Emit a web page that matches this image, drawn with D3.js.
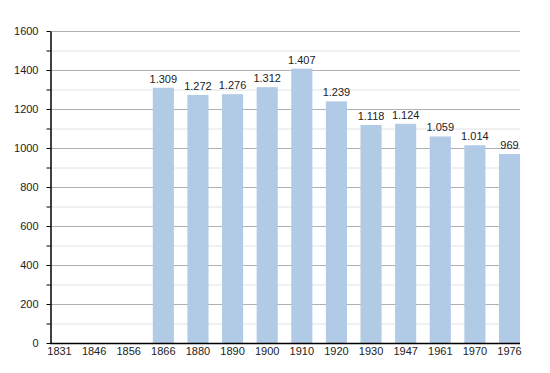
<!DOCTYPE html>
<html>
<head>
<meta charset="utf-8">
<script src="https://cdn.jsdelivr.net/npm/d3@7"></script>
<style>
  body { margin: 0; background: #fff; }
  text { font-family: "Liberation Sans", Arial, sans-serif; font-size: 11px; fill: #222; }
</style>
</head>
<body>
<div id="chart"></div>
<script>
var years = ["1831", "1846", "1856", "1866", "1880", "1890", "1900", "1910", "1920", "1930", "1947", "1961", "1970", "1976"];
var population = [null, null, null, 1309, 1272, 1276, 1312, 1407, 1239, 1118, 1124, 1059, 1014, 969];
var yTicks = [0, 200, 400, 600, 800, 1000, 1200, 1400, 1600];
var yMinor = [100, 300, 500, 700, 900, 1100, 1300, 1500];

var width = 550, height = 373,
    margin = {left: 50, right: 520, top: 31, bottom: 343};

var svg = d3.select("#chart").append("svg")
    .attr("width", width)
    .attr("height", height);

var step = (509.5 - 59.5) / (years.length - 1);
var x = d3.scaleBand()
    .domain(years)
    .range([59.5 - step / 2, 509.5 + step / 2])
    .paddingInner(0.39)
    .paddingOuter(0.195);

var y = d3.scaleLinear()
    .domain([0, 1600])
    .range([margin.bottom, margin.top]);

// minor grid
svg.append("g").selectAll("line")
    .data(yMinor)
  .enter().append("line")
    .attr("x1", margin.left).attr("x2", margin.right)
    .attr("y1", function(d){ return y(d) + 0.5; })
    .attr("y2", function(d){ return y(d) + 0.5; })
    .attr("stroke", "#e2e2e2");

// major grid
svg.append("g").selectAll("line")
    .data(yTicks.slice(1))
  .enter().append("line")
    .attr("x1", margin.left).attr("x2", margin.right)
    .attr("y1", function(d){ return y(d) + 0.5; })
    .attr("y2", function(d){ return y(d) + 0.5; })
    .attr("stroke", "#b0b0b0");

// bars
var valid = years.map(function(d, i){ return {year: d, value: population[i]}; })
    .filter(function(d){ return d.value != null; });

svg.append("g").selectAll("rect")
    .data(valid)
  .enter().append("rect")
    .attr("x", function(d){ return x(d.year); })
    .attr("width", x.bandwidth())
    .attr("y", function(d){ return y(d.value); })
    .attr("height", function(d){ return margin.bottom - y(d.value); })
    .attr("fill", "#b1cbe6");

// value labels, dot as thousands separator
var fmt = d3.formatLocale({decimal: ",", thousands: ".", grouping: [3], currency: ["", ""]}).format(",d");
svg.append("g").selectAll("text")
    .data(valid)
  .enter().append("text")
    .attr("x", function(d){ return x(d.year) + x.bandwidth() / 2; })
    .attr("y", function(d){ return y(d.value) - 5; })
    .attr("text-anchor", "middle")
    .text(function(d){ return fmt(d.value); });

// y axis
var yAxis = d3.axisLeft(y)
    .tickValues(d3.merge([yTicks, yMinor]).sort(d3.ascending))
    .tickSize(4)
    .tickSizeOuter(0)
    .tickFormat(function(d){ return yTicks.indexOf(d) >= 0 ? d : ""; });

var gy = svg.append("g")
    .attr("transform", "translate(" + (margin.left + 0.5) + ",0)")
    .call(yAxis);
gy.select(".domain").attr("stroke", "#000").attr("stroke-width", 1.5);
gy.selectAll(".tick line").attr("stroke", "#000");
gy.selectAll(".tick text").attr("x", -12).style("font-size", "11px").attr("fill", "#222");

// x axis
var gx = svg.append("g")
    .attr("transform", "translate(0," + margin.bottom + ")")
    .call(d3.axisBottom(x).tickSize(0).tickSizeOuter(0));
gx.select(".domain").attr("d", "M" + margin.left + ",0.5H" + margin.right).attr("stroke", "#000").attr("stroke-width", 1.5);
gx.selectAll(".tick text").attr("y", 4).attr("dy", "0.71em").style("font-size", "11px").attr("fill", "#222");
</script>
</body>
</html>
